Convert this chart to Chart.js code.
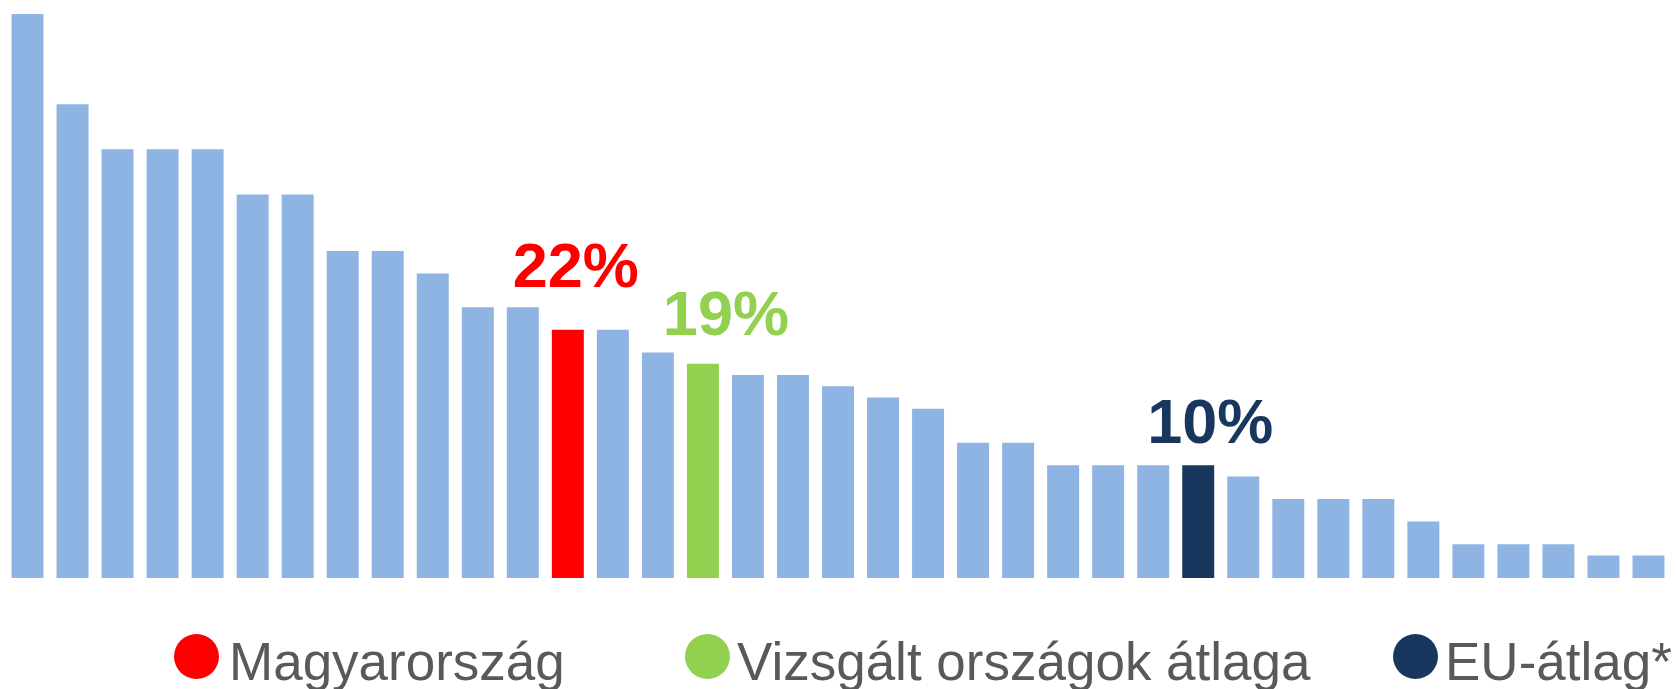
<!DOCTYPE html>
<html>
<head>
<meta charset="utf-8">
<script src="https://cdn.jsdelivr.net/npm/chart.js@4/dist/chart.umd.min.js"></script>
<style>
  body { margin: 0; background: #fff; }
  #wrap { position: relative; width: 1677px; height: 689px; }
  #bar-chart { position: absolute; left: 0; top: 0; }
  .dot { position: absolute; top: 634px; width: 45px; height: 45px; border-radius: 50%; }
  .lbl { position: absolute; top: 635px; font: 53px/53px "Liberation Sans", Arial, sans-serif; color: #595959; white-space: nowrap; }
</style>
</head>
<body>
<div id="wrap">
  <canvas id="bar-chart" width="1677" height="689"></canvas>
  <div class="dot" style="left:174px;background:#ff0000"></div>
  <span class="lbl" style="left:229px">Magyarország</span>
  <div class="dot" style="left:685px;background:#92d050"></div>
  <span class="lbl" style="left:737px">Vizsgált országok átlaga</span>
  <div class="dot" style="left:1393px;background:#17375e"></div>
  <span class="lbl" style="left:1445px">EU-átlag*</span>
</div>
<script>
const categories = Array.from({ length: 37 }, (_, i) => String(i + 1))
const values = [50, 42, 38, 38, 38, 34, 34, 29, 29, 27, 24, 24, 22, 22, 20, 19, 18, 18, 17, 16, 15, 12, 12, 10, 10, 10, 10, 9, 7, 7, 7, 5, 3, 3, 3, 2, 2]

// kiemelt oszlopok: Magyarország, vizsgált országok átlaga, EU-átlag
const highlightIndex = [12, 15, 26]
const highlightColor = ["#ff0000", "#92d050", "#17375e"]
const baseColor = "#8eb4e3"

const barColors = values.map((v, i) => {
  const k = highlightIndex.indexOf(i)
  return k >= 0 ? highlightColor[k] : baseColor
})

// címkék eltolása az oszlop tetejéhez képest
const labelOffset = [[8, 43], [23, 29], [12, 22]]

const valueLabels = {
  id: "valueLabels",
  afterDatasetsDraw(chart) {
    const c = chart.ctx
    const meta = chart.getDatasetMeta(0)
    c.save()
    c.font = "bold 63px 'Liberation Sans', Arial, sans-serif"
    c.textAlign = "center"
    c.textBaseline = "alphabetic"
    highlightIndex.forEach((idx, k) => {
      const bar = meta.data[idx]
      c.fillStyle = highlightColor[k]
      c.fillText(values[idx] + "%", bar.x + labelOffset[k][0], bar.y - labelOffset[k][1])
    })
    c.restore()
  },
}

const ctx = document.getElementById("bar-chart")

new Chart(ctx, {
  type: "bar",
  data: {
    labels: categories,
    datasets: [
      {
        data: values,
        backgroundColor: barColors,
        borderWidth: 0,
        barPercentage: 0.71,
        categoryPercentage: 1,
      },
    ],
  },
  options: {
    responsive: false,
    animation: false,
    layout: { padding: { left: 5, right: 6, top: 14, bottom: 111 } },
    plugins: { legend: { display: false }, tooltip: { enabled: false } },
    scales: {
      x: { display: false },
      y: { display: false, min: 0, max: 50 },
    },
  },
  plugins: [valueLabels],
})
</script>
</body>
</html>
